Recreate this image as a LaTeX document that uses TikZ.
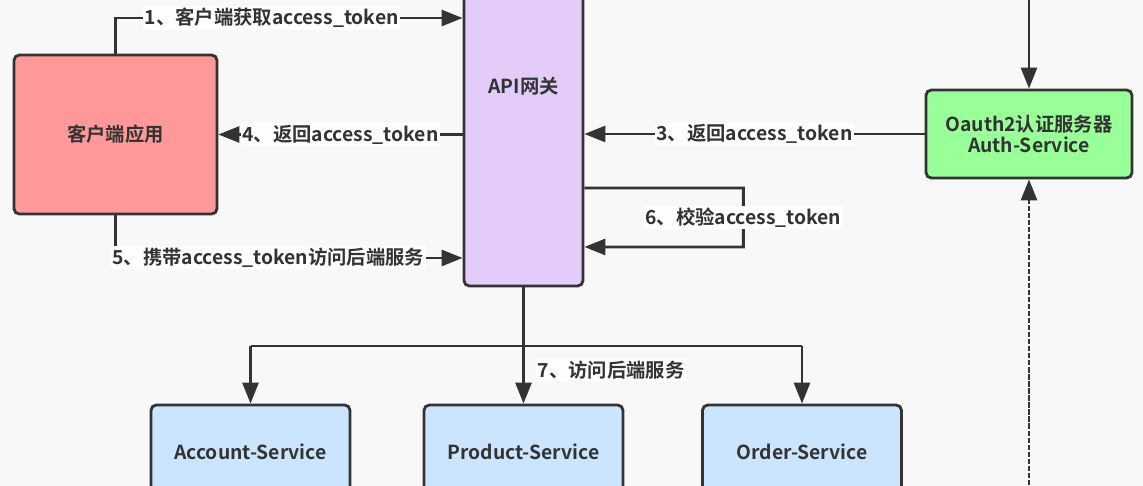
\documentclass[tikz,border=0pt]{standalone}
\usepackage{fontspec}
\setmainfont{Noto Sans CJK SC}[BoldFont={Noto Sans CJK SC Bold}]
\usepackage{xcolor}
\usetikzlibrary{arrows.meta,positioning,calc}
\definecolor{oaink}{HTML}{333333}
\definecolor{oabgcol}{HTML}{F8F8F8}
\definecolor{oalblcol}{HTML}{FDFDFD}
\definecolor{oaclient}{HTML}{FF9999}
\definecolor{oagate}{HTML}{E3CCFA}
\definecolor{oaauth}{HTML}{99FF99}
\definecolor{oasvc}{HTML}{CCE5FF}
\tikzset{
oabox/.style={rectangle,rounded corners=3pt,draw=oaink,line width=1.6pt,align=center,text=oaink,font=\fontsize{11}{12}\selectfont\bfseries,inner sep=2pt},
oaclientbox/.style={oabox,fill=oaclient,minimum width=4.06cm,minimum height=3.18cm},
oagatebox/.style={oabox,fill=oagate,minimum width=2.38cm,minimum height=8cm},
oaauthbox/.style={oabox,fill=oaauth,minimum width=4.12cm,minimum height=1.76cm},
oasvcbox/.style={oabox,fill=oasvc,minimum width=3.98cm,minimum height=1.88cm},
oaarr/.style={-{Triangle[length=0.42cm,width=0.32cm]},draw=oaink,line width=1.6pt},
oaline/.style={draw=oaink,line width=1.6pt},
oadash/.style={oaarr,dash pattern=on 3pt off 1pt},
oalabel/.style={font=\fontsize{11}{13}\selectfont\bfseries,text=oaink,fill=oalblcol,inner sep=1pt}
}
\begin{document}
\begin{tikzpicture}[x=0.02cm,y=-0.02cm]
\useasboundingbox (0,0) rectangle (1143,486);
\fill[oabgcol] (0,0) rectangle (1143,486);
\clip (0,0) rectangle (1143,486);
% boxes
\node[oaclientbox] (client) at (115.5,134.5) {客户端应用};
\node[oagatebox] (gateway) at (523.5,86) {API网关};
\node[oaauthbox] (auth) at (1029,134) {Oauth2认证服务器\\Auth-Service};
\node[oasvcbox] (account) at (250.5,452) {Account-Service};
\node[oasvcbox] (product) at (523.5,452) {Product-Service};
\node[oasvcbox] (order) at (802,452) {Order-Service};
\coordinate (authin) at (1029,-5);
\coordinate (authdash) at (1029,492);
\coordinate (fork) at (523.5,346);
% token flow
\draw[oaarr] (client.north) |- node[oalabel,pos=0.725]{1、客户端获取access\_token} ([yshift=1.36cm]gateway.west);
\draw[oaarr] (authin) -- (auth.north);
\draw[oaarr] (auth.west) -- node[oalabel]{3、返回access\_token} (auth.west -| gateway.east);
\draw[oaarr] (gateway.west |- client.east) -- node[oalabel]{4、返回access\_token} (client.east);
\draw[oaarr] (client.south) |- node[oalabel,pos=0.72]{5、携带access\_token访问后端服务} ([yshift=-3.44cm]gateway.west);
\draw[oaarr] ([yshift=-2.04cm]gateway.east) -- ++(159,0) -- node[oalabel]{6、校验access\_token} ++(0,59) -- ([yshift=-3.22cm]gateway.east);
\draw[oadash] (authdash) -- (auth.south);
% backend
\draw[oaarr] (gateway.south) -- node[oalabel,anchor=west,pos=0.71,xshift=0.22cm]{7、访问后端服务} (product.north);
\draw[oaline] (fork -| account.north) -- (fork -| order.north);
\draw[oaarr] (fork -| account.north) -- (account.north);
\draw[oaarr] (fork -| order.north) -- (order.north);
\end{tikzpicture}
\end{document}
